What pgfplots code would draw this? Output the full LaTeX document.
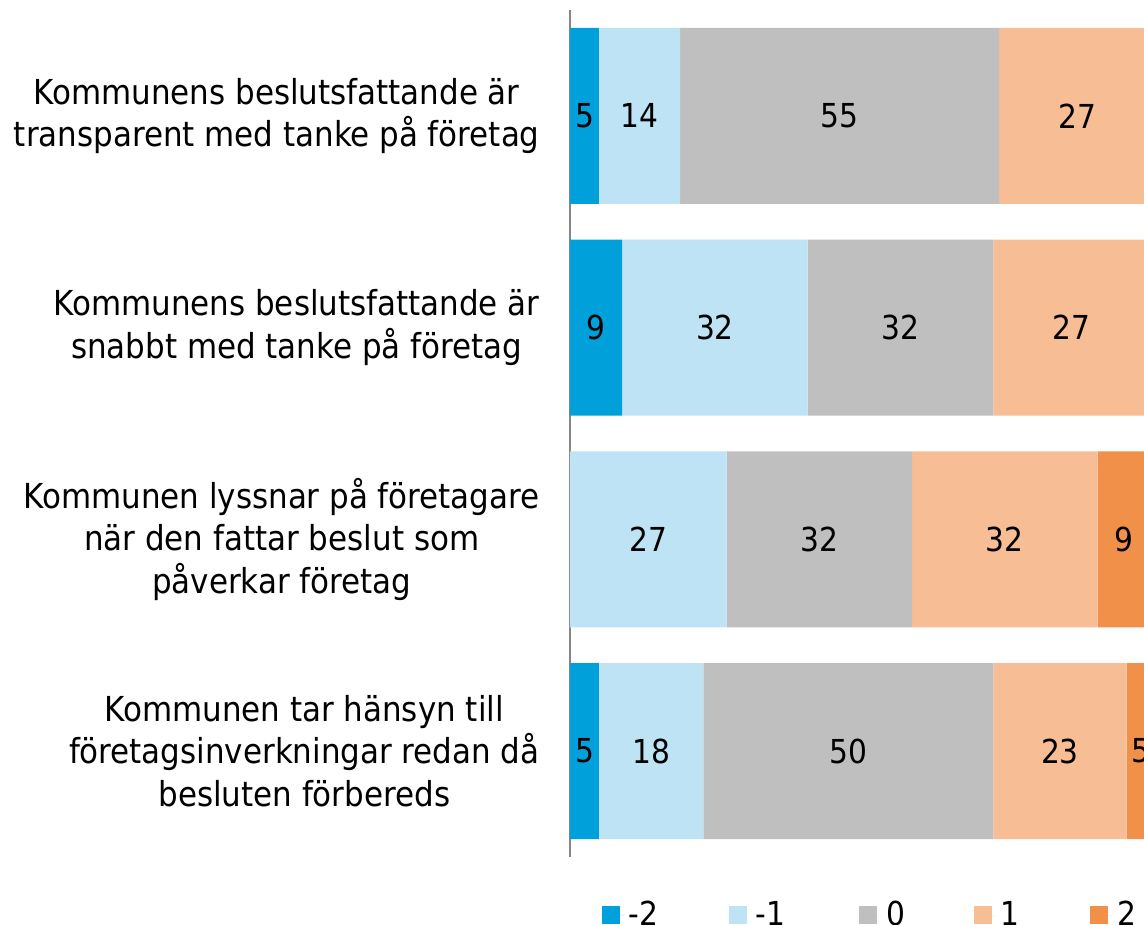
\documentclass[border=0pt]{standalone}
\usepackage{pgfplots}
\pgfplotsset{compat=1.18}
\usepackage{fontspec}
\setmainfont{DejaVu Sans Condensed}
\definecolor{cmtwo}{RGB}{0,160,218}
\definecolor{cmone}{RGB}{189,227,245}
\definecolor{czero}{RGB}{191,191,191}
\definecolor{cone}{RGB}{247,189,148}
\definecolor{ctwo}{RGB}{241,145,73}
\definecolor{axgray}{RGB}{134,134,134}
\begin{document}
\begin{tikzpicture}[x=1bp,y=1bp]
\useasboundingbox (-285,-34) rectangle (287,428.5);
\begin{axis}[
  at={(0,0)}, anchor=south west,
  scale only axis, width=295.7bp, height=423.5bp,
  xbar stacked, bar width=0.831,
  xmin=0, xmax=102, ymin=0.5, ymax=4.5, y dir=reverse,
  axis x line=none, axis y line=left,
  y axis line style={-, draw=axgray, line width=0.75bp},
  xtick=\empty,
  ytick={1,2,3,4},
  yticklabels={{Kommunens beslutsfattande är\\transparent med tanke på företag},
               {Kommunens beslutsfattande är\\snabbt med tanke på företag},
               {Kommunen lyssnar på företagare\\när den fattar beslut som\\påverkar företag},
               {Kommunen tar hänsyn till\\företagsinverkningar redan då\\besluten förbereds}},
  major tick length=0pt,
  yticklabel style={align=center, inner sep=0pt, xshift=-15bp, font=\fontsize{17.2bp}{21.25bp}\selectfont},
  visualization depends on={rawx \as \rawxvalue},
  nodes near coords={\ifdim\rawxvalue pt>0pt \pgfmathprintnumber[assume math mode=true]{\rawxvalue}\fi},
  every node near coord/.append style={anchor=center, text=black, inner sep=0pt,
     font=\fontsize{16.5bp}{19bp}\selectfont},
  legend style={at={(0.5089,-0.0685)}, anchor=center, legend columns=-1, draw=none,
     font=\fontsize{16.5bp}{19bp}\selectfont,
     /tikz/column 2/.style={column sep=33bp},
     /tikz/column 4/.style={column sep=35bp},
     /tikz/column 6/.style={column sep=32.3bp},
     /tikz/column 8/.style={column sep=33.3bp}},
  legend image code/.code={\fill[#1,draw=none] (0bp,-4.5bp) rectangle (9bp,4.5bp);
     \path (0bp,0bp) -- (11.5bp,0bp);},
]
\addplot[fill=cmtwo, draw=none] coordinates {(5,1) (9,2) (0,3) (5,4)};
\addlegendentry{-2}
\addplot[fill=cmone, draw=none] coordinates {(14,1) (32,2) (27,3) (18,4)};
\addlegendentry{-1}
\addplot[fill=czero, draw=none] coordinates {(55,1) (32,2) (32,3) (50,4)};
\addlegendentry{0}
\addplot[fill=cone, draw=none] coordinates {(27,1) (27,2) (32,3) (23,4)};
\addlegendentry{1}
\addplot[fill=ctwo, draw=none] coordinates {(0,1) (0,2) (9,3) (5,4)};
\addlegendentry{2}
\end{axis}
\end{tikzpicture}
\end{document}
